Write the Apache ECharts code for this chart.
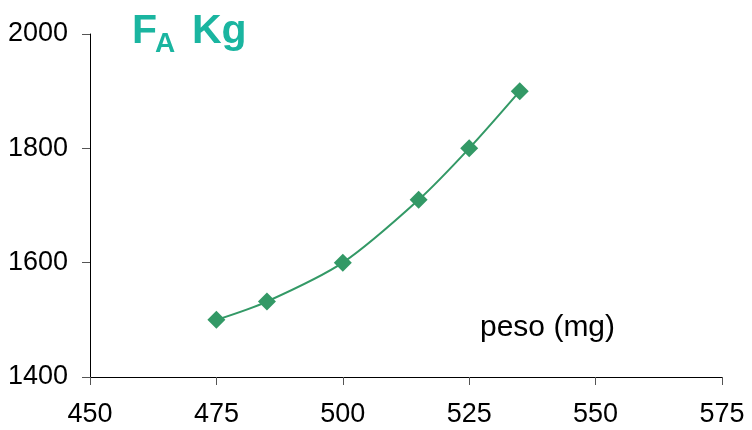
<!DOCTYPE html>
<html><head><meta charset="utf-8">
<script src="https://cdn.jsdelivr.net/npm/echarts@6/dist/echarts.min.js"></script>
<style>html,body{margin:0;padding:0;background:#fff}#c{width:752px;height:430px}</style>
</head><body><div id="c"></div>
<script>
const pesoMg = [475, 485, 500, 515, 525, 535];
const forzaKg = [1500, 1532, 1600, 1710, 1800, 1900];
const titleMain = 'F';
const titleSub = 'A';
const titleUnit = 'Kg';
const xAxisName = 'peso (mg)';

const chart = echarts.init(document.getElementById('c'), null, {renderer: 'canvas'});
const font = '"Liberation Sans", Arial, sans-serif';
chart.setOption({
  animation: false,
  backgroundColor: '#ffffff',
  grid: {left: 90, right: 30, top: 34, bottom: 53, containLabel: false},
  xAxis: {
    type: 'value', min: 450, max: 575, interval: 25,
    axisLine: {show: true, lineStyle: {color: '#000', width: 1}},
    axisTick: {show: true, length: 8, lineStyle: {color: '#555'}},
    axisLabel: {color: '#000', fontSize: 27, fontFamily: font, margin: 24, formatter: v => String(v)},
    splitLine: {show: false}
  },
  yAxis: {
    type: 'value', min: 1400, max: 2000, interval: 200,
    axisLine: {show: true, lineStyle: {color: '#000', width: 1}},
    axisTick: {show: true, length: 8, lineStyle: {color: '#555'}},
    axisLabel: {color: '#000', fontSize: 27, fontFamily: font, margin: 22, formatter: v => String(v)},
    splitLine: {show: false}
  },
  graphic: [
    {type: 'text', left: 132, top: 11, style: {text: titleMain, font: 'bold 41px ' + font, fill: '#1ab5a0'}},
    {type: 'text', left: 155, top: 30, style: {text: titleSub, font: 'bold 28px ' + font, fill: '#1ab5a0'}},
    {type: 'text', left: 192, top: 11, style: {text: titleUnit, font: 'bold 41px ' + font, fill: '#1ab5a0'}},
    {type: 'text', left: 480, top: 313, style: {text: xAxisName, font: '30px ' + font, fill: '#000'}}
  ],
  series: [{
    type: 'line',
    data: pesoMg.map((x, i) => [x, forzaKg[i]]),
    smooth: 0.3,
    symbol: 'diamond',
    symbolSize: 18,
    itemStyle: {color: '#339966'},
    lineStyle: {color: '#339966', width: 2}
  }]
});
</script></body></html>
